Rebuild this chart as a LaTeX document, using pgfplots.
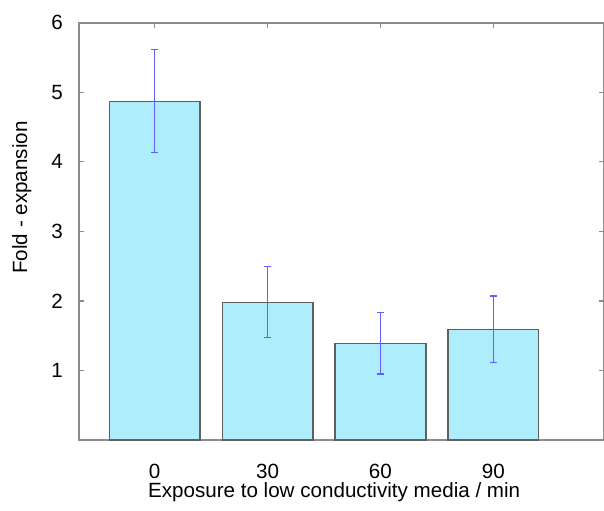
\documentclass[border=0pt]{standalone}
\usepackage{pgfplots}
\pgfplotsset{compat=1.18}
\usepackage{fontspec}
\setmainfont{Liberation Sans}
\definecolor{barfill}{RGB}{174,238,252}
\definecolor{baredge}{RGB}{95,95,95}
\definecolor{errc}{RGB}{95,95,255}
\definecolor{framec}{RGB}{140,140,140}
\begin{document}
\begin{tikzpicture}
\begin{axis}[
  scale only axis,
  width=262.5pt, height=208.65pt,
  xmin=-0.67, xmax=3.98,
  ymin=0, ymax=6,
  xtick={0,1,2,3},
  xticklabels={0,30,60,90},
  ytick={1,2,3,4,5,6},
  xtick pos=both, ytick pos=both,
  xticklabel pos=left, yticklabel pos=left,
  tick align=inside,
  major tick length=2.5pt,
  axis line style={draw=framec, line width=0.8pt},
  every tick/.style={draw=framec, line width=0.6pt},
  /pgf/number format/assume math mode=true,
  tick label style={font=\fontsize{10.3}{12}\selectfont},
  xticklabel style={yshift=-11pt, inner sep=1pt},
  yticklabel style={xshift=-4.6pt},
  label style={font=\fontsize{10.3}{12}\selectfont},
  xlabel={Exposure to low conductivity media / min},
  ylabel={Fold - expansion},
  xlabel style={at={(axis description cs:0.486,-0.1385)}, anchor=base, inner sep=0.5pt},
  ylabel style={at={(axis description cs:-0.099,0.581)}, anchor=base, rotate=0},
  clip=false,
]
\addplot[ybar, bar width=0.805, fill=barfill, draw=baredge, line width=0.6pt,
  error bars/.cd, y dir=both, y explicit,
  error bar style={draw=errc, line width=0.6pt},
  error mark options={rotate=90, mark size=1.75pt, draw=errc, line width=0.6pt}]
  coordinates {
    (0,4.87) +- (0,0.74)
    (1,1.98) +- (0,0.51)
    (2,1.39) +- (0,0.44)
    (3,1.59) +- (0,0.48)
  };
\end{axis}
\pgfresetboundingbox
\path (-39.5pt,-35pt) rectangle (262.5pt,220pt);
\end{tikzpicture}
\end{document}
